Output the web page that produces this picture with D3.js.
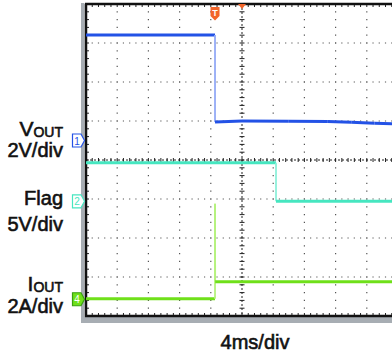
<!DOCTYPE html>
<html>
<head>
<meta charset="utf-8">
<script src="https://cdn.jsdelivr.net/npm/d3@7"></script>
<style>
  body { margin: 0; background: #fff; }
  svg { display: block; }
  text { font-family: "Liberation Sans", Arial, sans-serif; fill: #111; }
</style>
</head>
<body>
<div id="chart"></div>
<script>
// time in ms (4 ms/div, 10 div), trigger position = 0
var voutTime  = [-20, -3.46, -3.46, 0, 6, 11, 14, 17, 20];
var voutValue = [5.41, 5.41, 0.95, 1.0, 0.99, 0.98, 0.93, 0.88, 0.86];   // V, 2 V/div

var flagTime  = [-20, 4.36, 4.36, 20];
var flagValue = [4.94, 4.94, 0.0, 0.0];   // V, 5 V/div

var ioutTime  = [-20, -3.46, -3.46, -3.44, 20];
var ioutValue = [0.02, 0.02, 4.9, 0.9, 0.9];   // A, 2 A/div

var channels = [
  { name: 'vout', time: voutTime, value: voutValue, perDiv: 2, offset: 0.5,   color: '#2352e6', edge: '#94aaf6', label: '1' },
  { name: 'flag', time: flagTime, value: flagValue, perDiv: 5, offset: -1.06, color: '#46e6c0', edge: '#8ef0da', label: '2' },
  { name: 'iout', time: ioutTime, value: ioutValue, perDiv: 2, offset: -3.57, color: '#6fe01a', edge: '#b6f27e', label: '4' }
];

var W = 392, H = 356;
var plotLeft = 86, plotTop = 4, divW = 31.2, divH = 39;

var svg = d3.select('#chart').append('svg')
  .attr('width', W)
  .attr('height', H);

var x = d3.scaleLinear().domain([-20, 20]).range([plotLeft, plotLeft + 10 * divW]);
var y = d3.scaleLinear().domain([-4, 4]).range([plotTop + 8 * divH, plotTop]);

var plotRight = x(20), plotBottom = y(-4);

var grid = svg.append('g');

// dotted grid
d3.range(-3, 4).filter(function(d) { return d !== 0; }).forEach(function(d) {
  grid.append('line')
    .attr('x1', plotLeft).attr('x2', plotRight).attr('y1', y(d)).attr('y2', y(d))
    .attr('stroke', '#555').attr('stroke-width', 1.2)
    .attr('stroke-dasharray', '1.2 ' + (divW / 5 - 1.2)).attr('stroke-dashoffset', -divW / 5 + 0.6);
});
d3.range(-16, 20, 4).filter(function(t) { return t !== 0; }).forEach(function(t) {
  grid.append('line')
    .attr('y1', plotTop).attr('y2', plotBottom).attr('x1', x(t)).attr('x2', x(t))
    .attr('stroke', '#555').attr('stroke-width', 1.2)
    .attr('stroke-dasharray', '1.2 ' + (divH / 5 - 1.2)).attr('stroke-dashoffset', -divH / 5 + 0.6);
});

// center axes with minor ticks
grid.append('line')
  .attr('x1', plotLeft).attr('x2', plotRight).attr('y1', y(0)).attr('y2', y(0))
  .attr('stroke', '#222').attr('stroke-width', 1).attr('stroke-dasharray', '2 2');
grid.append('line')
  .attr('y1', plotTop).attr('y2', plotBottom).attr('x1', x(0)).attr('x2', x(0))
  .attr('stroke', '#222').attr('stroke-width', 1).attr('stroke-dasharray', '2 2');

d3.range(1, 50).forEach(function(i) {
  var xx = plotLeft + i * divW / 5;
  grid.append('line').attr('x1', xx).attr('x2', xx).attr('y1', y(0) - 2).attr('y2', y(0) + 2)
    .attr('stroke', '#222').attr('stroke-width', 1);
  grid.append('line').attr('x1', xx).attr('x2', xx).attr('y1', plotTop).attr('y2', plotTop + 3)
    .attr('stroke', '#222').attr('stroke-width', 1);
  grid.append('line').attr('x1', xx).attr('x2', xx).attr('y1', plotBottom - 3).attr('y2', plotBottom)
    .attr('stroke', '#222').attr('stroke-width', 1);
});
d3.range(1, 40).forEach(function(i) {
  var yy = plotTop + i * divH / 5;
  grid.append('line').attr('y1', yy).attr('y2', yy).attr('x1', x(0) - 2.5).attr('x2', x(0) + 2.5)
    .attr('stroke', '#222').attr('stroke-width', 1);
  grid.append('line').attr('y1', yy).attr('y2', yy).attr('x1', plotLeft).attr('x2', plotLeft + 3)
    .attr('stroke', '#222').attr('stroke-width', 1);
});

// frame
svg.append('rect').attr('x', plotLeft - 5).attr('y', plotTop - 1).attr('width', 3.5).attr('height', plotBottom - plotTop + 8).attr('fill', '#a7adb3');
svg.append('rect').attr('x', plotLeft - 5).attr('y', plotBottom + 1).attr('width', W).attr('height', 6).attr('fill', '#a7adb3');
svg.append('line').attr('x1', plotLeft - 1).attr('x2', W).attr('y1', plotTop).attr('y2', plotTop).attr('stroke', '#111').attr('stroke-width', 2.5);
svg.append('line').attr('x1', plotLeft - 1).attr('x2', W).attr('y1', plotBottom).attr('y2', plotBottom).attr('stroke', '#111').attr('stroke-width', 2.5);
svg.append('line').attr('x1', plotLeft).attr('x2', plotLeft).attr('y1', plotTop).attr('y2', plotBottom + 1).attr('stroke', '#111').attr('stroke-width', 2.5);

// traces
channels.forEach(function(ch) {
  var yv = function(v) { return y(ch.offset + v / ch.perDiv); };
  var g = svg.append('g').attr('class', ch.name);
  for (var i = 1; i < ch.time.length; i++) {
    var vertical = ch.time[i] - ch.time[i - 1] < 0.05;
    g.append('line')
      .attr('x1', x(ch.time[i - 1])).attr('y1', yv(ch.value[i - 1]))
      .attr('x2', x(ch.time[i])).attr('y2', yv(ch.value[i]))
      .attr('stroke', vertical ? ch.edge : ch.color)
      .attr('stroke-width', vertical ? 1.8 : 3)
      .attr('stroke-linecap', 'butt');
  }
  // channel marker
  var my = yv(0);
  var m = svg.append('g').attr('transform', 'translate(72,' + my + ')');
  var filled = ch.name === 'iout';
  m.append('path')
    .attr('d', 'M0.5,-6.5 H9 L12.5,0 L9,6.5 H0.5 Z')
    .attr('fill', filled ? ch.color : '#fff')
    .attr('stroke', filled ? '#3aa010' : ch.color)
    .attr('stroke-width', 1.2);
  m.append('text')
    .attr('x', 5).attr('y', 4)
    .attr('text-anchor', 'middle')
    .style('font-size', '10px')
    .style('fill', filled ? '#fff' : ch.color)
    .text(ch.label);
});

// trigger markers
var tx = x(-3.46);
svg.append('path')
  .attr('d', 'M' + (tx - 4.5) + ',7 h9 v9 l-4.5,4.5 l-4.5,-4.5 Z')
  .attr('fill', '#f2652a');
svg.append('text').attr('x', tx).attr('y', 15.5).attr('text-anchor', 'middle')
  .style('font-size', '9px').style('font-weight', 'bold').style('fill', '#fff').text('T');
svg.append('path')
  .attr('d', 'M' + (x(0) - 4) + ',4 h8 l-4,5 Z')
  .attr('fill', '#f2652a');

// labels
function label(yBase, main, sub) {
  var t = svg.append('text').attr('x', 63).attr('y', yBase).attr('text-anchor', 'end')
    .style('font-size', '20px').style('stroke', '#111').style('stroke-width', 0.6);
  t.append('tspan').style('font-size', sub ? '21px' : '20px').text(main);
  if (sub) t.append('tspan').attr('dy', 1).style('font-size', '14px').text(sub);
}
label(136, 'V', 'OUT');
label(157, '2V/div');
label(205, 'Flag');
label(231, '5V/div');
label(291, 'I', 'OUT');
label(313, '2A/div');

svg.append('text').attr('x', 255).attr('y', 349).attr('text-anchor', 'middle')
  .style('font-size', '20px').style('stroke', '#111').style('stroke-width', 0.6)
  .text('4ms/div');
</script>
</body>
</html>
